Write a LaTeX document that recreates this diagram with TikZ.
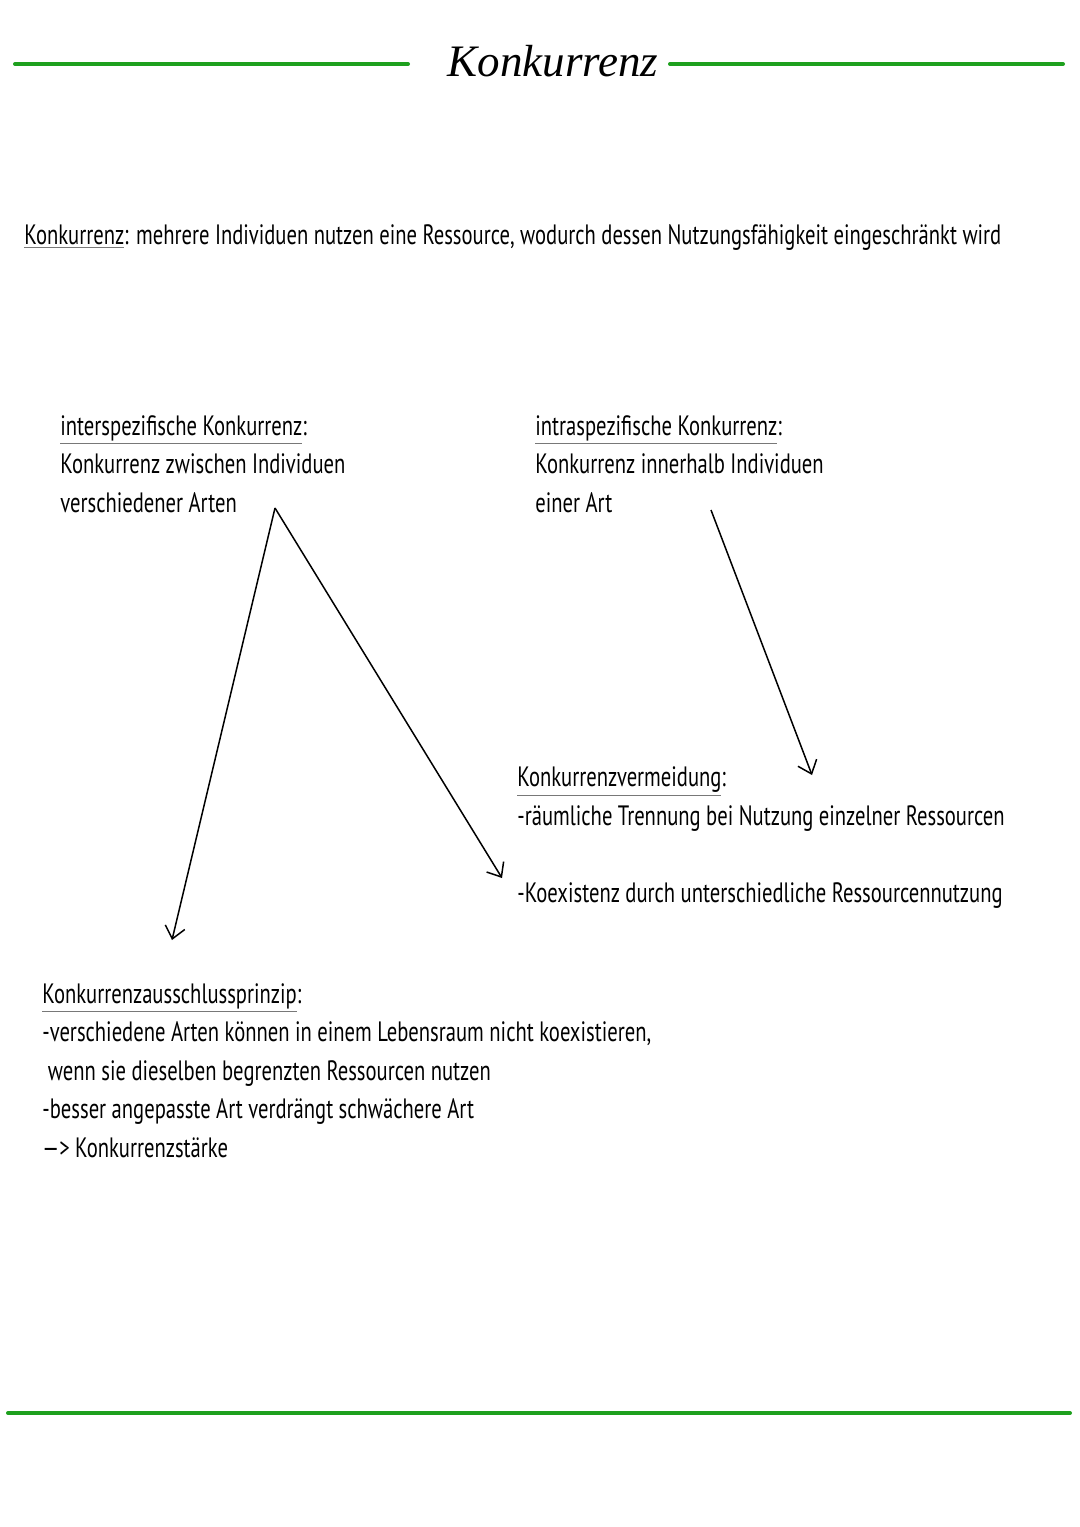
\documentclass[tikz,border=0pt]{standalone}
\usepackage{fontspec}
\usetikzlibrary{arrows.meta}
\setmainfont[FakeStretch=0.736]{PT Sans}
\newfontfamily\titlefont{Liberation Serif}
\definecolor{rulegreen}{RGB}{30,160,30}
\definecolor{ulgray}{RGB}{120,120,120}
\newcommand\keyword[1]{{\color{ulgray}\underline{\color{black}#1}}}

\begin{document}
\begin{tikzpicture}
  [x=0.5pt,y=-0.5pt,
   every node/.style={inner sep=0pt,anchor=base west,align=left,
     font=\fontsize{14}{19.25}\selectfont},
   greenrule/.style={rulegreen,line width=2pt,line cap=round},
   pointer/.style={-{Straight Barb[length=6pt,width=10pt]},line width=0.75pt}]
  \useasboundingbox (0,0) rectangle (1080,1527);

  % title with green rules
  \node[anchor=base,font=\fontsize{22.5}{27}\selectfont\titlefont\itshape] (title) at (553,76) {Konkurrenz};
  \draw[greenrule] (15,64) -- (408,64);
  \draw[greenrule] (670,64) -- (1063,64);
  \draw[greenrule] (8,1413) -- (1070,1413);

  % definition
  \node (defn) at (24,244) {\keyword{Konkurrenz}: mehrere Individuen nutzen eine Ressource, wodurch dessen Nutzungsfähigkeit eingeschränkt wird};

  % the two kinds (anchored at the baseline of the last line)
  \node (inter) at (60,512) {\keyword{interspezifische Konkurrenz}:\\
    Konkurrenz zwischen Individuen\\
    verschiedener Arten};
  \node (intra) at (535,512) {\keyword{intraspezifische Konkurrenz}:\\
    Konkurrenz innerhalb Individuen\\
    einer Art};

  % consequences
  \node (vermeid) at (517,902) {\keyword{Konkurrenzvermeidung}:\\
    -räumliche Trennung bei Nutzung einzelner Ressourcen\\[19.25pt]
    -Koexistenz durch unterschiedliche Ressourcennutzung};
  \node (ausschl) at (42,1157) {\keyword{Konkurrenzausschlussprinzip}:\\
    -verschiedene Arten können in einem Lebensraum nicht koexistieren,\\
    \ wenn sie dieselben begrenzten Ressourcen nutzen\\
    -besser angepasste Art verdrängt schwächere Art\\
    —> Konkurrenzstärke};

  \coordinate (apexL) at (275,508);
  \coordinate (tipA) at (172,940);
  \coordinate (tipB) at (502,878);
  \coordinate (startC) at (711,510);
  \coordinate (tipC) at (812,775);

\foreach \from/\to in {apexL/tipA, apexL/tipB, startC/tipC}
    \draw[pointer] (\from) -- (\to);
\end{tikzpicture}
\end{document}
